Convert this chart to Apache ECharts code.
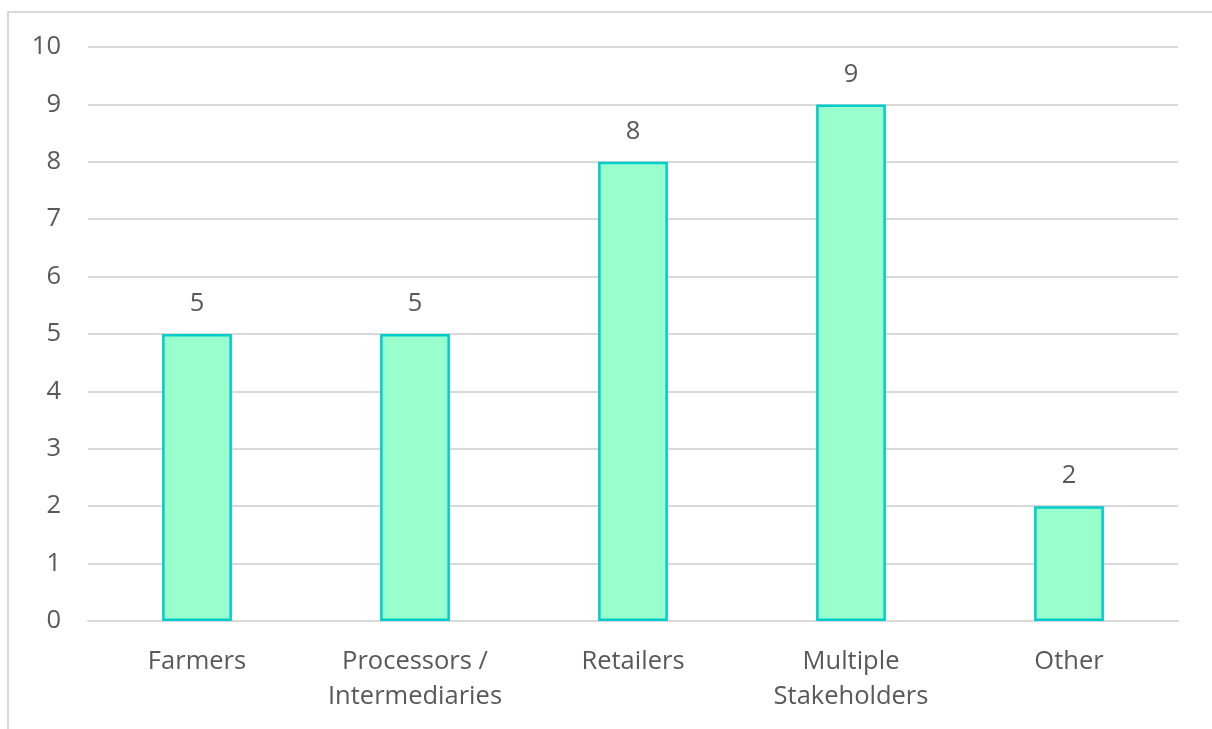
<!DOCTYPE html>
<html>
<head>
<meta charset="utf-8">
<style>
  html, body { margin: 0; padding: 0; background: #ffffff; }
  #chart { width: 1212px; height: 729px; }
</style>
<script src="https://cdn.jsdelivr.net/npm/echarts@6/dist/echarts.min.js"></script>
</head>
<body>
<div id="chart"></div>
<script>
// Stakeholder groups and their counts
const categories = ['Farmers', 'Processors /\nIntermediaries', 'Retailers', 'Multiple\nStakeholders', 'Other'];
const counts = [5, 5, 8, 9, 2];
const yTicks = [0, 1, 2, 3, 4, 5, 6, 7, 8, 9, 10];

const textColor = '#595959';
const fontFamily = '"Open Sans", "Noto Sans", sans-serif';

const chart = echarts.init(document.getElementById('chart'), null, { renderer: 'canvas' });

chart.setOption({
  animation: false,
  backgroundColor: '#ffffff',
  graphic: [{
    type: 'rect',
    shape: { x: 8, y: 12, width: 1300, height: 800 },
    style: { fill: 'none', stroke: '#d9d9d9', lineWidth: 2 },
    silent: true
  }],
  grid: { left: 88, right: 34, top: 47, bottom: 108, containLabel: false },
  xAxis: {
    type: 'category',
    data: categories,
    axisLine: { show: true, lineStyle: { color: '#d9d9d9', width: 2 } },
    axisTick: { show: false },
    axisLabel: {
      interval: 0,
      hideOverlap: false,
      color: textColor,
      fontFamily: fontFamily,
      fontSize: 25.5,
      lineHeight: 35,
      margin: 23
    }
  },
  yAxis: {
    type: 'value',
    min: yTicks[0],
    max: yTicks[yTicks.length - 1],
    interval: 1,
    axisLine: { show: false },
    axisTick: { show: false },
    axisLabel: {
      color: textColor,
      fontFamily: fontFamily,
      fontSize: 25.5,
      margin: 27
    },
    splitLine: { show: true, lineStyle: { color: '#d9d9d9', width: 2 } }
  },
  series: [{
    type: 'bar',
    data: counts,
    barWidth: '32%',
    itemStyle: {
      color: '#99ffcc',
      borderColor: '#00cccc',
      borderWidth: 2.5
    },
    label: {
      show: true,
      position: 'top',
      distance: 17,
      color: textColor,
      fontFamily: fontFamily,
      fontSize: 25.5
    }
  }]
});
</script>
</body>
</html>
